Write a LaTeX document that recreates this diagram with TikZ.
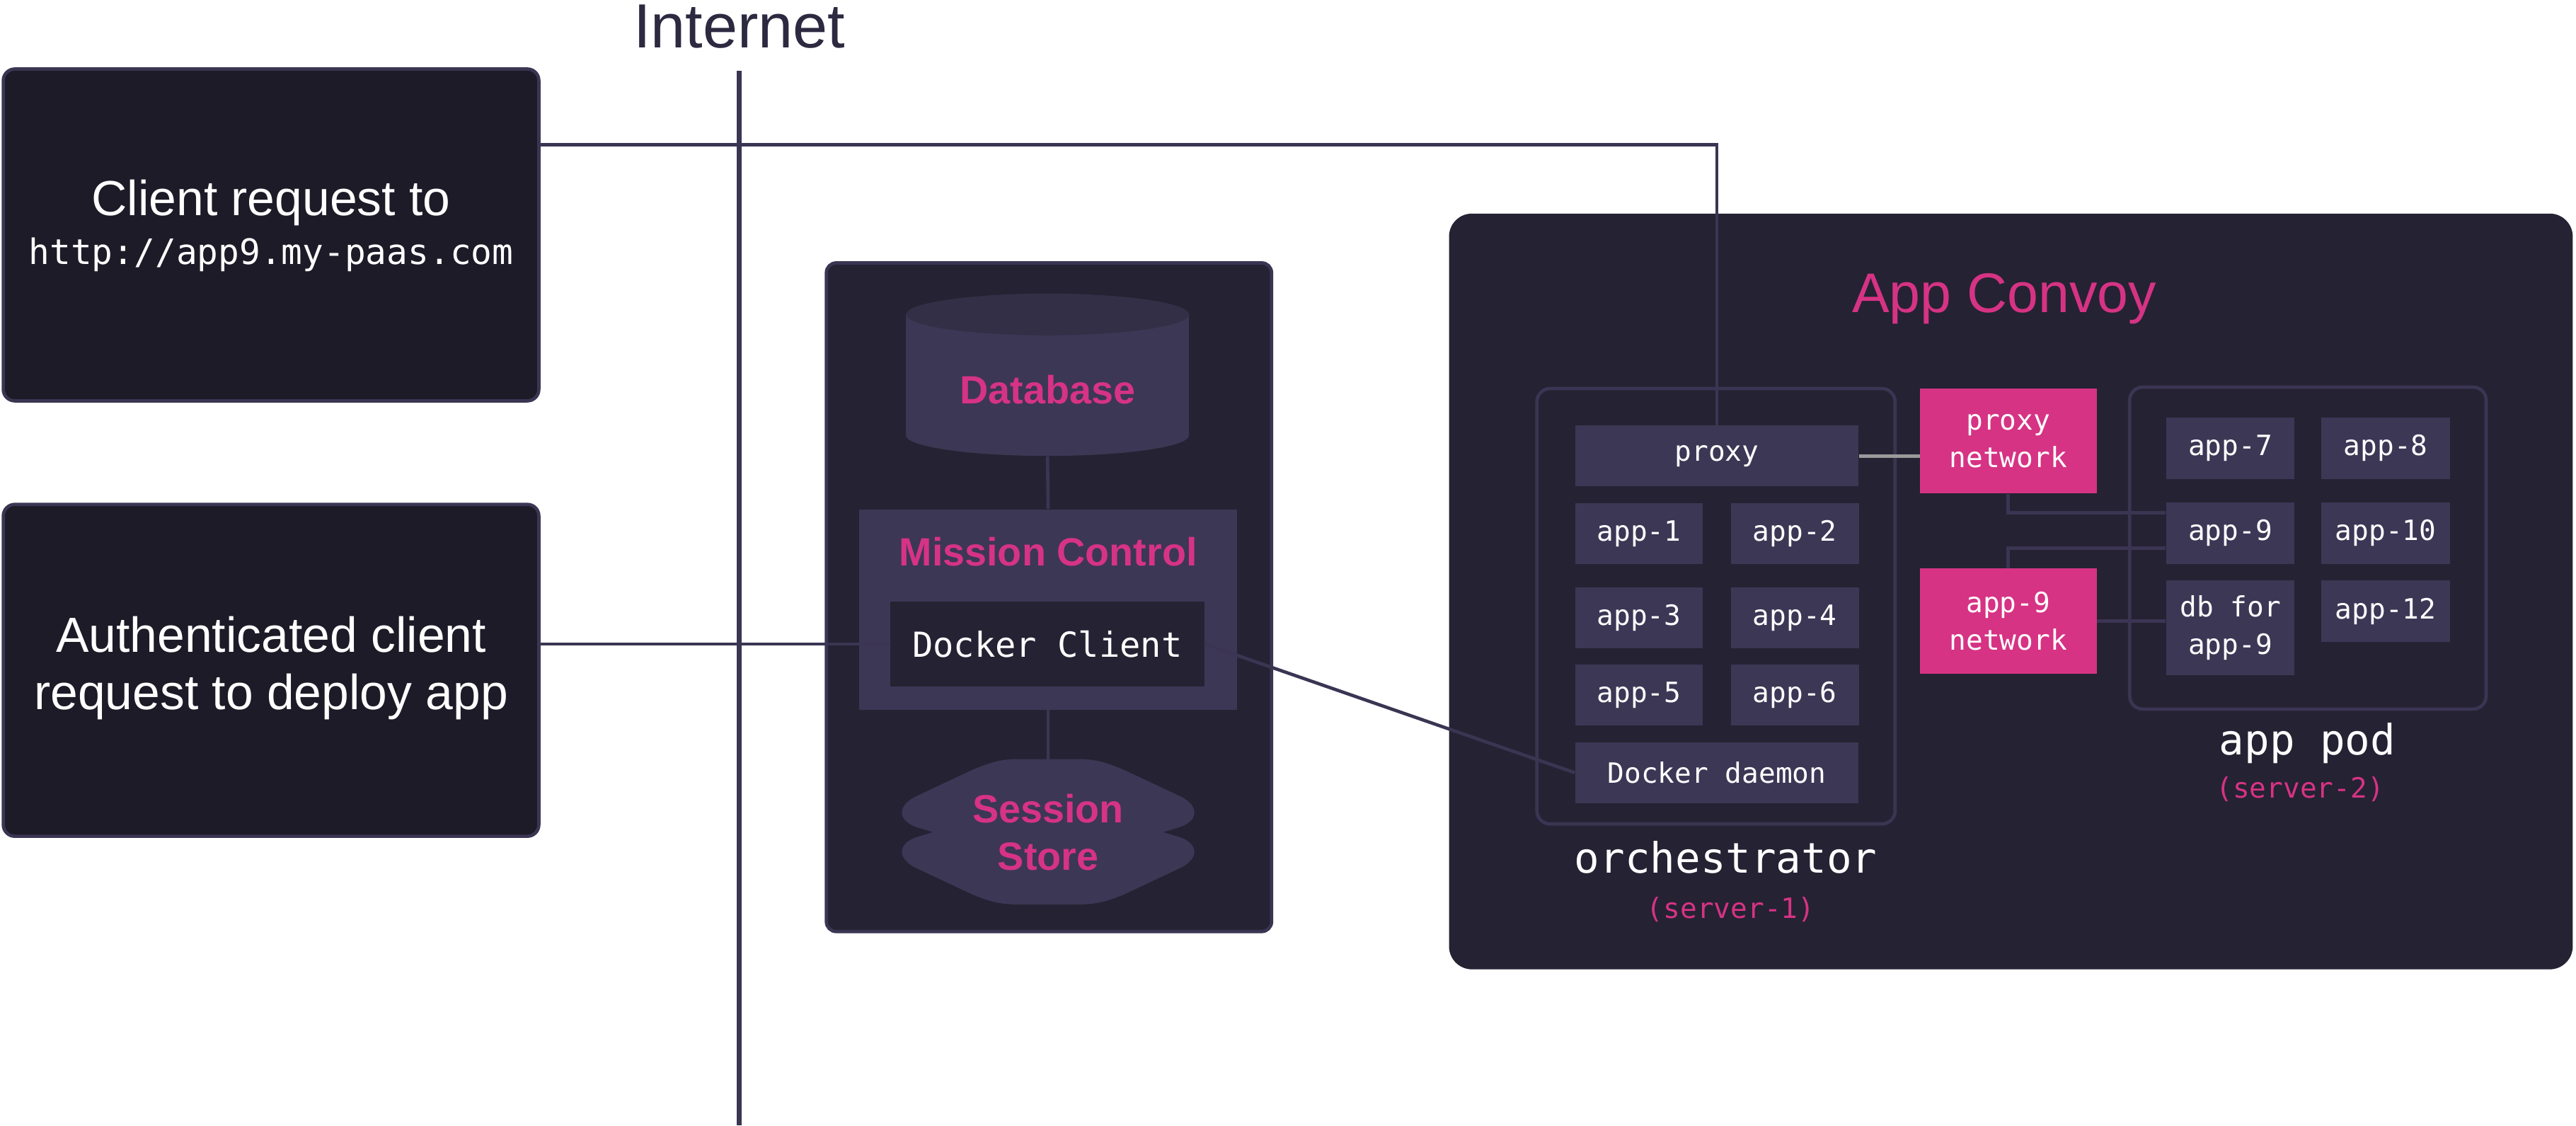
\documentclass[tikz,border=0pt]{standalone}
\usepackage{fontspec}
\setmainfont{Liberation Sans}
\newfontfamily\monof{DejaVu Sans Mono}
\usetikzlibrary{calc}
\definecolor{boxA}{HTML}{1C1B27}
\definecolor{panel}{HTML}{252233}
\definecolor{cellc}{HTML}{3C3755}
\definecolor{dbtop}{HTML}{332F47}
\definecolor{bord}{HTML}{3B3553}
\definecolor{pinkc}{HTML}{D63384}
\definecolor{inet}{HTML}{2D2940}
\definecolor{grayln}{HTML}{9A9A9A}
\begin{document}
\begin{tikzpicture}[x=1pt,y=-1pt,
  outerbox/.style={fill=boxA, draw=bord, line width=2pt, rounded corners=7pt, minimum width=326pt, minimum height=202pt, inner sep=0pt},
  cellbox/.style={fill=cellc, text=white, font=\monof\fontsize{17}{23}\selectfont, inner sep=0pt, minimum height=37pt, align=center},
  pinkbox/.style={fill=pinkc, text=white, font=\monof\fontsize{17}{23}\selectfont, inner sep=0pt, minimum width=107.5pt, minimum height=64pt, align=center},
  grp/.style={draw=bord, line width=2pt, rounded corners=8pt, inner sep=0pt},
  conn/.style={draw=bord, line width=2pt},
  pinktitle/.style={text=pinkc, font=\bfseries\fontsize{24}{29}\selectfont, align=center, inner sep=0pt},
  lbl/.style={text=white, font=\monof\fontsize{25.5}{30}\selectfont, inner sep=0pt},
  srv/.style={text=pinkc, font=\monof\fontsize{17}{20}\selectfont, inner sep=0pt},
  whitetext/.style={text=white, font=\fontsize{30}{35}\selectfont, align=center, inner sep=0pt}
]
\useasboundingbox (0,0) rectangle (1568,685);

% ---------- panels ----------
\node[outerbox] (box1) at (165,143) {};
\node[outerbox] (box2) at (165,408) {};
\node[fill=panel, draw=bord, line width=2pt, rounded corners=6pt, minimum width=271pt, minimum height=407pt, inner sep=0pt] (mid) at (638.5,363.5) {};
\node[fill=panel, rounded corners=14pt, minimum width=684pt, minimum height=460pt, inner sep=0pt] (convoy) at (1224,360) {};
\node[grp, minimum width=218pt, minimum height=265pt] (orch) at (1044.5,369) {};
\node[grp, minimum width=217pt, minimum height=196pt] (pod) at (1404.8,333.6) {};

% ---------- Internet ----------
\node[text=inet, font=\fontsize{38}{44}\selectfont, anchor=base, inner sep=0pt] (inet) at (450,29) {Internet};
\coordinate (inetTop) at (450,43);
\coordinate (inetBot) at (450,685);
\draw[bord, line width=3pt] (inetTop) -- (inetBot);

% ---------- left texts ----------
\node[whitetext] (t1) at (165,123.5) {Client request to};
\node[text=white, font=\monof\fontsize{21.3}{25}\selectfont, inner sep=0pt] (t1b) at (165,155) {http://app9.my-paas.com};
\node[whitetext] (t2) at (165,406.5) {Authenticated client\\request to deploy app};

% ---------- Database ----------
\node[minimum width=172.3pt, minimum height=98.8pt, inner sep=0pt] (db) at (637.6,228.1) {};
\fill[cellc] (551.45,191.4) rectangle (723.75,265);
\fill[cellc] (637.6,265) ellipse[x radius=86.15, y radius=12.5];
\fill[dbtop] (637.6,191.4) ellipse[x radius=86.15, y radius=12.7];
\node[pinktitle] (dbt) at (637.6,237) {Database};

% ---------- Mission Control ----------
\node[fill=cellc, minimum width=230pt, minimum height=122pt, inner sep=0pt] (mc) at (638,371) {};
\node[pinktitle] (mct) at (638,336) {Mission Control};
\node[fill=panel, text=white, font=\monof\fontsize{21}{25}\selectfont, minimum width=191pt, minimum height=52pt, inner sep=0pt] (dc) at (637.5,392) {Docker Client};

% ---------- Session Store ----------
\fill[cellc, shift={(638,506.5)}]
  (0,-44.5) -- (18,-44.5) .. controls (30,-44.5) and (36,-42) .. (46,-38)
  -- (80,-22) .. controls (92,-16.5) and (92,-7) .. (80,-3)
  -- (70,0) -- (80,3) .. controls (92,7) and (92,16.5) .. (80,22)
  -- (46,38) .. controls (36,42) and (30,44) .. (18,44)
  -- (-18,44) .. controls (-30,44) and (-36,42) .. (-46,38)
  -- (-80,22) .. controls (-92,16.5) and (-92,7) .. (-80,3)
  -- (-70,0) -- (-80,-3) .. controls (-92,-7) and (-92,-16.5) .. (-80,-22)
  -- (-46,-38) .. controls (-36,-42) and (-30,-44.5) .. (-18,-44.5) -- cycle;
\node[pinktitle, minimum width=180pt, minimum height=88pt] (ss) at (638,506.5) {Session\\Store};

% ---------- connectors in middle ----------
\draw[conn] (db.south) -- (mc.north);
\draw[conn] (mc.south) -- (ss.north);

% ---------- App Convoy title ----------
\node[text=pinkc, font=\fontsize{34}{40}\selectfont, inner sep=0pt] (ct) at (1220,182) {App Convoy};

% ---------- cells ----------
\node[cellbox, minimum width=172.6pt] (proxy) at (1045,277.6) {proxy};
\node[cellbox, minimum width=77.8pt] (app1) at (997.7,324.7) {app-1};
\node[cellbox, minimum width=77.8pt] (app2) at (1092.5,324.7) {app-2};
\node[cellbox, minimum width=77.8pt] (app3) at (997.7,376.1) {app-3};
\node[cellbox, minimum width=77.8pt] (app4) at (1092.5,376.1) {app-4};
\node[cellbox, minimum width=77.8pt] (app5) at (997.7,423.2) {app-5};
\node[cellbox, minimum width=77.8pt] (app6) at (1092.5,423.2) {app-6};
\node[cellbox, minimum width=172.6pt] (daemon) at (1045,470.3) {Docker daemon};

\node[pinkbox] (pnet) at (1222.4,268.4) {proxy\\network};
\node[pinkbox] (a9net) at (1222.4,378) {app-9\\network};

\node[cellbox, minimum width=78.2pt, minimum height=37.5pt] (app7) at (1357.6,272.8) {app-7};
\node[cellbox, minimum width=78.2pt, minimum height=37.5pt] (app8) at (1452.2,272.8) {app-8};
\node[cellbox, minimum width=78.2pt, minimum height=37.5pt] (app9) at (1357.6,324.5) {app-9};
\node[cellbox, minimum width=78.2pt, minimum height=37.5pt] (app10) at (1452.2,324.5) {app-10};
\node[cellbox, minimum width=78.2pt, minimum height=57.6pt] (db9) at (1357.6,382.2) {db for\\app-9};
\node[cellbox, minimum width=78.2pt, minimum height=37.5pt] (app12) at (1452.2,372) {app-12};

% ---------- labels ----------
\node[lbl] (orl) at (1050.5,522) {orchestrator};
\node[srv] (s1) at (1053.5,553.6) {(server-1)};
\node[lbl] (podl) at (1404.5,452.4) {app pod};
\node[srv] (s2) at (1400,480.2) {(server-2)};

% ---------- connectors ----------
\coordinate (turn) at (1045,88);
\draw[conn] (box1.east |- turn) -- (turn) -- (proxy.north);
\draw[conn] (box2.east |- dc.west) -- (dc.west);
\draw[conn] (dc.east) -- (daemon.west);
\draw[grayln, line width=2.5pt] (proxy.east) -- (pnet.west |- proxy.east);
\draw[conn] (pnet.south) |- ([yshift=12.5pt]app9.west);
\draw[conn] (a9net.north) |- ([yshift=-9pt]app9.west);
\draw[conn] (a9net.east) -- (db9.west |- a9net.east);
\end{tikzpicture}
\end{document}
